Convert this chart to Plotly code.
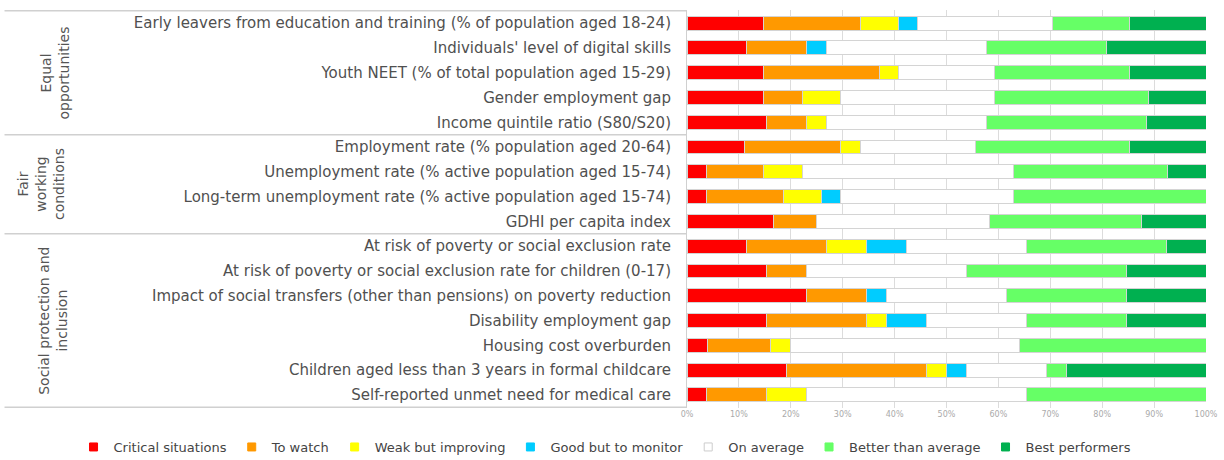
import plotly.graph_objects as go

indicators = [
    "Early leavers from education and training (% of population aged 18-24)",
    "Individuals' level of digital skills",
    "Youth NEET (% of total population aged 15-29)",
    "Gender employment gap",
    "Income quintile ratio (S80/S20)",
    "Employment rate (% population aged 20-64)",
    "Unemployment rate (% active population aged 15-74)",
    "Long-term unemployment rate (% active population aged 15-74)",
    "GDHI per capita index",
    "At risk of poverty or social exclusion rate",
    "At risk of poverty or social exclusion rate for children (0-17)",
    "Impact of social transfers (other than pensions) on poverty reduction",
    "Disability employment gap",
    "Housing cost overburden",
    "Children aged less than 3 years in formal childcare",
    "Self-reported unmet need for medical care",
]

# number of countries in each category per indicator
critical = [4, 3, 4, 4, 4, 3, 1, 1, 4, 3, 4, 6, 4, 1, 5, 1]
to_watch = [5, 3, 6, 2, 2, 5, 3, 4, 2, 4, 2, 3, 5, 3, 7, 3]
weak_improving = [2, 0, 1, 2, 1, 1, 2, 2, 0, 2, 0, 0, 1, 1, 1, 2]
good_monitor = [1, 1, 0, 0, 0, 0, 0, 1, 0, 2, 0, 1, 2, 0, 1, 0]
on_average = [7, 8, 5, 8, 8, 6, 11, 9, 8, 6, 8, 6, 5, 11, 4, 11]
better_avg = [4, 6, 7, 8, 8, 8, 8, 10, 7, 7, 8, 6, 5, 9, 1, 9]
best_perf = [4, 5, 4, 3, 3, 4, 2, 0, 3, 2, 4, 4, 4, 0, 7, 0]

series_names = ["Critical situations", "To watch", "Weak but improving",
                "Good but to monitor", "On average", "Better than average",
                "Best performers"]
series_values = [critical, to_watch, weak_improving, good_monitor,
                 on_average, better_avg, best_perf]
colors = ["#FF0000", "#FF9900", "#FFFF00", "#00CCFF", "#FFFFFF",
          "#66FF66", "#00B050"]

groups = ["Equal<br>opportunities", "Fair<br>working<br>conditions",
          "Social protection and<br>inclusion"]
group_sizes = [5, 4, 7]
group_label_x = [-1.218, -1.245, -1.223]

x_ticks = [0, 10, 20, 30, 40, 50, 60, 70, 80, 90, 100]
x_tick_text = ["0%", "10%", "20%", "30%", "40%", "50%", "60%", "70%",
               "80%", "90%", "100%"]

FONT = "DejaVu Sans"

fig = go.Figure()
for name, vals, col in zip(series_names, series_values, colors):
    fig.add_trace(go.Bar(
        y=indicators, x=vals, orientation="h", name=name,
        marker=dict(color=col, line=dict(color="#d4d4d4", width=1)),
        showlegend=False,
    ))
for name, col in zip(series_names, colors):
    fig.add_trace(go.Scatter(
        x=[None], y=[None], mode="markers", name=name,
        marker=dict(symbol="square", size=8, color=col,
                    line=dict(color="#cccccc" if col == "#FFFFFF" else col, width=1)),
    ))

# group separators and labels
bounds = [-0.5]
for s in group_sizes:
    bounds.append(bounds[-1] + s)
shapes = []
for b in bounds:
    shapes.append(dict(type="line", xref="paper", yref="y", x0=-1.315, x1=0,
                       y0=b, y1=b, line=dict(color="#d0d0d0", width=1.5)))
annotations = []
for i, (g, lx) in enumerate(zip(groups, group_label_x)):
    yc = (bounds[i] + bounds[i + 1]) / 2
    annotations.append(dict(text=g, xref="paper", yref="y", x=lx, y=yc,
                            textangle=-90, showarrow=False,
                            xanchor="center", yanchor="middle",
                            font=dict(family=FONT, size=14, color="#555555")))

fig.update_layout(
    width=1224, height=460,
    barmode="stack", barnorm="percent", bargap=0.44,
    plot_bgcolor="white", paper_bgcolor="white",
    margin=dict(l=687, r=18, t=10, b=52, autoexpand=False),
    font=dict(family=FONT, color="#555555"),
    shapes=shapes, annotations=annotations,
    legend=dict(orientation="h", xref="paper", x=-1.182, xanchor="left",
                yref="paper", y=-0.098, yanchor="middle",
                font=dict(size=13, color="#444444"),
                traceorder="normal", itemwidth=30),
    xaxis=dict(range=[0, 100], tickvals=x_ticks, ticktext=x_tick_text,
               showgrid=True, gridcolor="#dcdcdc", gridwidth=1,
               zeroline=False, tickfont=dict(size=8, color="#aaaaaa"),
               showline=False, fixedrange=True),
    yaxis=dict(autorange="reversed", showgrid=False, showline=True,
               linecolor="#d0d0d0", linewidth=1,
               tickfont=dict(size=15, color="#505050"),
               ticklabelstandoff=12),
)

fig.write_html("out.html", config={"displayModeBar": False},
               post_script="document.body.style.margin='0';document.body.style.overflow='hidden';")
